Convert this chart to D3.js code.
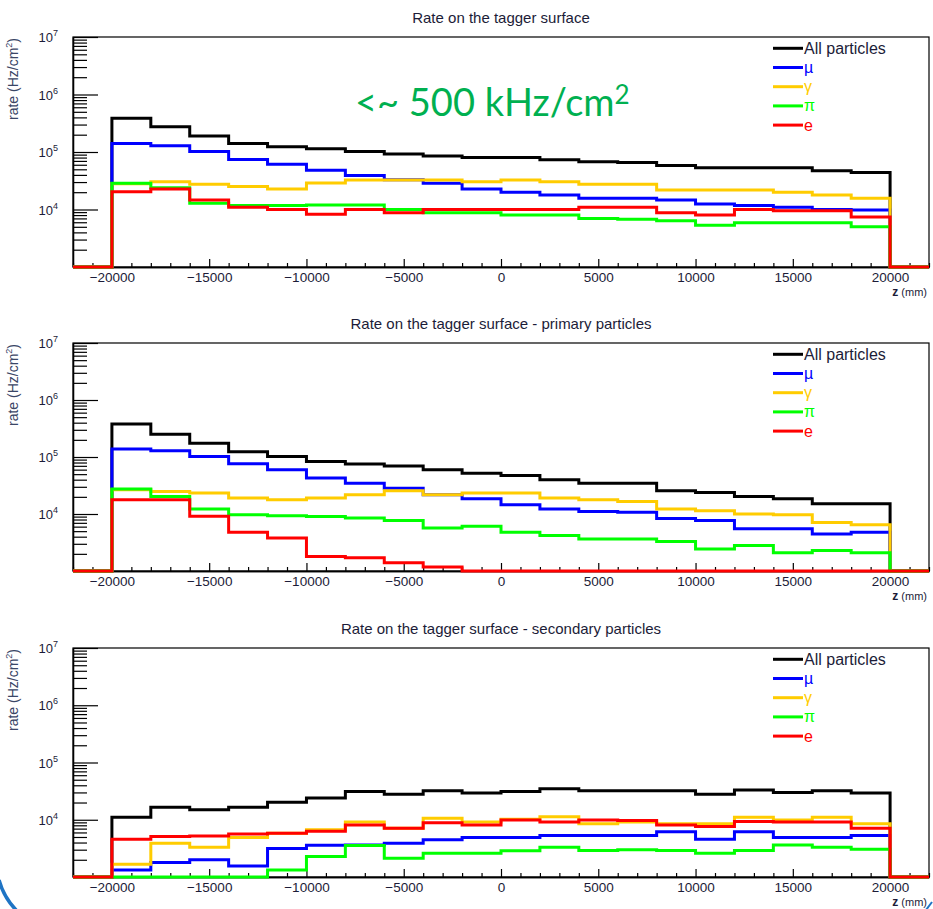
<!DOCTYPE html>
<html>
<head>
<meta charset="utf-8">
<script src="https://cdn.jsdelivr.net/npm/d3@7"></script>
<style>
  html, body { margin: 0; padding: 0; background: #ffffff; }
  svg { display: block; }
  .root-text { font-family: "Liberation Sans", Arial, Helvetica, sans-serif; }
</style>
</head>
<body>
<script>
// Bin edges along z (mm): 22 bins of 2000 mm, the outermost two are empty.
const zEdges = [-22000, -20000, -18000, -16000, -14000, -12000, -10000, -8000, -6000, -4000, -2000,
                0, 2000, 4000, 6000, 8000, 10000, 12000, 14000, 16000, 18000, 20000, 22000];

// Rate on the tagger surface (Hz/cm^2), all particles
const allSurface   = [0, 385e3, 275e3, 190e3, 141e3, 123e3, 114e3, 102e3, 92e3, 85e3, 80e3, 80e3, 73e3, 68e3, 66e3, 58e3, 53e3, 53e3, 53e3, 47e3, 44e3, 0];
const muSurface    = [0, 141e3, 129e3, 102e3, 74e3, 61e3, 48e3, 39e3, 33e3, 28.5e3, 22.8e3, 19.9e3, 17.9e3, 15.7e3, 15.7e3, 14.6e3, 12.5e3, 11.7e3, 10.9e3, 10e3, 9.8e3, 0];
const gammaSurface = [0, 28e3, 30.5e3, 27.5e3, 25e3, 22.8e3, 29e3, 32.6e3, 32.6e3, 32.6e3, 30.3e3, 32.6e3, 30.3e3, 27.5e3, 27.5e3, 21.8e3, 21.8e3, 21.8e3, 19.9e3, 17.9e3, 15.7e3, 0];
const piSurface    = [0, 28.5e3, 24e3, 12.8e3, 11.7e3, 11.7e3, 12e3, 12e3, 10e3, 8.8e3, 8.8e3, 8e3, 8e3, 7e3, 6.8e3, 6.4e3, 5.3e3, 5.9e3, 5.9e3, 5.9e3, 5.0e3, 0];
const eSurface     = [0, 20.4e3, 22.8e3, 14.6e3, 10.9e3, 10e3, 8.3e3, 10e3, 8.8e3, 10e3, 10e3, 10e3, 10e3, 10.9e3, 10.9e3, 8.8e3, 8e3, 10e3, 9.5e3, 9.5e3, 7.4e3, 0];

// Primary particles
const allPrimary   = [0, 380e3, 250e3, 174e3, 124e3, 102e3, 83e3, 75.7e3, 69.8e3, 59.5e3, 52e3, 47.3e3, 39.8e3, 34.8e3, 34.8e3, 25.5e3, 23.9e3, 20.3e3, 18.5e3, 15.1e3, 15.1e3, 0];
const muPrimary    = [0, 138e3, 129e3, 102e3, 76e3, 59.6e3, 42.6e3, 34.8e3, 28.4e3, 21.7e3, 18.5e3, 14.6e3, 12.2e3, 11.1e3, 10.7e3, 8.3e3, 7.7e3, 5.5e3, 5.5e3, 4.47e3, 4.8e3, 0];
const gammaPrimary = [0, 26.6e3, 24.8e3, 23.3e3, 19e3, 17.8e3, 19e3, 21.7e3, 25.5e3, 21.7e3, 23.3e3, 23.3e3, 19e3, 17.8e3, 16.6e3, 12.2e3, 11.4e3, 10e3, 9.7e3, 7.1e3, 6.5e3, 0];
const piPrimary    = [0, 27.4e3, 20.3e3, 12.2e3, 9.7e3, 9.3e3, 9.0e3, 8.5e3, 7.7e3, 5.7e3, 6.1e3, 4.8e3, 4.2e3, 3.66e3, 3.66e3, 3.3e3, 2.44e3, 2.8e3, 2.08e3, 2.28e3, 2.08e3, 0];
const ePrimary     = [0, 17.8e3, 17.8e3, 9.1e3, 4.8e3, 3.8e3, 1.8e3, 1.7e3, 1.39e3, 1.17e3, 0, 0, 0, 0, 0, 0, 0, 0, 0, 0, 0, 0];

// Secondary particles
const allSecondary   = [0, 11.1e3, 16.6e3, 14.9e3, 16.6e3, 20.3e3, 23.9e3, 31.1e3, 28e3, 32e3, 29.2e3, 31.1e3, 34.7e3, 32e3, 32e3, 32e3, 28e3, 33e3, 30e3, 32e3, 29.2e3, 0];
const muSecondary    = [0, 1.33e3, 1.8e3, 2.0e3, 1.56e3, 3.16e3, 3.6e3, 3.63e3, 3.9e3, 4.47e3, 4.9e3, 4.9e3, 5.3e3, 5.3e3, 5.3e3, 6.2e3, 4.57e3, 6.2e3, 4.9e3, 4.9e3, 5.3e3, 0];
const gammaSecondary = [0, 1.67e3, 3.9e3, 3.3e3, 4.9e3, 5.8e3, 6.7e3, 9.1e3, 7.1e3, 10.6e3, 9.1e3, 10.2e3, 11.3e3, 8.5e3, 9.1e3, 8.5e3, 8.5e3, 11.1e3, 9.95e3, 11.1e3, 8.5e3, 0];
const piSecondary    = [0, 0, 0, 0, 0, 1.33e3, 2.27e3, 3.55e3, 2.13e3, 2.6e3, 2.6e3, 2.87e3, 3.3e3, 2.9e3, 2.98e3, 2.9e3, 2.6e3, 2.9e3, 3.63e3, 3.3e3, 3.06e3, 0];
const eSecondary     = [0, 4.57e3, 5.1e3, 5.2e3, 5.66e3, 5.8e3, 6.3e3, 8.1e3, 7.1e3, 8.9e3, 8.1e3, 9.95e3, 9.1e3, 9.95e3, 9.7e3, 8.1e3, 7.6e3, 9.3e3, 9.1e3, 9.1e3, 7.1e3, 0];

const panelTitles = [
  "Rate on the tagger surface",
  "Rate on the tagger surface - primary particles",
  "Rate on the tagger surface - secondary particles"
];
const particleLabels = ["All particles", "\u00b5", "\u03b3", "\u03c0", "e"];
const particleColors = ["#000000", "#0000ff", "#ffcc00", "#00ff00", "#ff0000"];
const zTicks = [-20000, -15000, -10000, -5000, 0, 5000, 10000, 15000, 20000];
const rateDecades = [4, 5, 6, 7];

const panelSeries = [
  [allSurface, muSurface, gammaSurface, piSurface, eSurface],
  [allPrimary, muPrimary, gammaPrimary, piPrimary, ePrimary],
  [allSecondary, muSecondary, gammaSecondary, piSecondary, eSecondary]
];

// Layout
const W = 933, H = 909;
const frameLeft = 73, frameRight = 929;
const frameTops = [37, 343, 648];
const frameBottoms = [267, 571, 877];
const textColor = "#1c1c38";

const svg = d3.select("body").append("svg").attr("width", W).attr("height", H);
svg.append("rect").attr("width", W).attr("height", H).attr("fill", "#ffffff");

const x = d3.scaleLinear().domain([-22000, 22000]).range([frameLeft, frameRight]);

panelSeries.forEach((series, p) => {
  const top = frameTops[p], bottom = frameBottoms[p];
  const y = d3.scaleLog().domain([1e3, 1e7]).range([bottom, top]).clamp(true);
  const g = svg.append("g").attr("class", "root-text");

  // frame
  g.append("rect")
    .attr("x", frameLeft).attr("y", top)
    .attr("width", frameRight - frameLeft).attr("height", bottom - top)
    .attr("fill", "none").attr("stroke", "#000").attr("stroke-width", 1.2);

  // title
  g.append("text")
    .attr("x", (frameLeft + frameRight) / 2).attr("y", top - 14)
    .attr("text-anchor", "middle").attr("font-size", 15).attr("fill", textColor)
    .text(panelTitles[p]);

  // z axis: major and minor ticks
  const minorZ = d3.range(-22000, 22001, 1000).filter(v => zTicks.indexOf(v) < 0);
  const xMinor = g.append("g").attr("transform", `translate(0,${bottom})`)
    .call(d3.axisBottom(x).tickValues(minorZ).tickSizeInner(-4).tickSizeOuter(0).tickFormat(""));
  const xMajor = g.append("g").attr("transform", `translate(0,${bottom})`)
    .call(d3.axisBottom(x).tickValues(zTicks).tickSizeInner(-8).tickSizeOuter(0)
      .tickPadding(5).tickFormat(d3.format("d")));
  [xMinor, xMajor].forEach(a => {
    a.select(".domain").attr("stroke", "#000").attr("stroke-width", 1.3);
    a.selectAll(".tick line").attr("stroke", "#000").attr("stroke-width", 1.2);
  });
  xMajor.selectAll(".tick text")
    .attr("font-family", "Liberation Sans, Arial, sans-serif")
    .attr("font-size", 13.5).attr("fill", textColor);

  // z axis title
  const zt = g.append("text")
    .attr("x", 927).attr("y", bottom + 28.5).attr("text-anchor", "end").attr("fill", textColor);
  zt.append("tspan").attr("font-size", 12).attr("font-weight", "bold").text("z");
  zt.append("tspan").attr("font-size", 11).text(" (mm)");

  // rate axis: decades and 2..9 sub-ticks
  const majorR = rateDecades.map(e => Math.pow(10, e)).concat([1e3]);
  const minorR = [];
  [3, 4, 5, 6].forEach(e => { for (let k = 2; k <= 9; k++) minorR.push(k * Math.pow(10, e)); });
  const yMinor = g.append("g").attr("transform", `translate(${frameLeft},0)`)
    .call(d3.axisLeft(y).tickValues(minorR).tickSizeInner(-14).tickSizeOuter(0).tickFormat(""));
  const yMajor = g.append("g").attr("transform", `translate(${frameLeft},0)`)
    .call(d3.axisLeft(y).tickValues(majorR).tickSizeInner(-25).tickSizeOuter(0).tickFormat(""));
  [yMinor, yMajor].forEach(a => {
    a.select(".domain").attr("stroke", "#000").attr("stroke-width", 1.3);
    a.selectAll(".tick line").attr("stroke", "#000").attr("stroke-width", 1.2);
  });

  // decade labels 10^n
  rateDecades.forEach(e => {
    const t = g.append("text")
      .attr("x", 58).attr("y", y(Math.pow(10, e)) + 5)
      .attr("text-anchor", "end").attr("fill", textColor);
    t.append("tspan").attr("font-size", 13).text("10");
    t.append("tspan").attr("font-size", 9).attr("dy", -6).text(String(e));
  });

  // rate axis title
  const yt = g.append("text")
    .attr("transform", `translate(18,${top + 1}) rotate(-90)`)
    .attr("text-anchor", "end").attr("fill", "#3a4666").attr("font-size", 14);
  yt.append("tspan").text("rate (Hz/cm");
  yt.append("tspan").attr("font-size", 9).attr("dy", -6).text("2");
  yt.append("tspan").attr("dy", 6).text(")");

  // histograms as step outlines, drawn in legend order so e ends on top
  const line = d3.line()
    .x(d => x(d[0]))
    .y(d => d[1] > 0 ? y(d[1]) : bottom)
    .curve(d3.curveStepAfter);
  series.forEach((vals, s) => {
    const pts = vals.map((v, i) => [zEdges[i], v]);
    pts.push([zEdges[zEdges.length - 1], vals[vals.length - 1]]);
    g.append("path")
      .attr("d", line(pts))
      .attr("fill", "none")
      .attr("stroke", particleColors[s])
      .attr("stroke-width", 3)
      .attr("stroke-linejoin", "miter");
  });

  // legend
  particleLabels.forEach((lab, s) => {
    const ly = top + 11.3 + s * 19.2;
    g.append("line")
      .attr("x1", 773).attr("x2", 803).attr("y1", ly).attr("y2", ly)
      .attr("stroke", particleColors[s]).attr("stroke-width", 3);
    g.append("text")
      .attr("x", 804).attr("y", ly + 5.5)
      .attr("font-size", 16)
      .attr("fill", s === 0 ? textColor : particleColors[s])
      .text(lab);
  });
});

// rate annotation on the surface panel
const note = svg.append("text")
  .attr("x", 355).attr("y", 116)
  .attr("font-family", "Lato, 'Open Sans', sans-serif")
  .attr("font-size", 38).attr("fill", "#00b050");
note.append("tspan").text("<~ 500 kHz/cm");
note.append("tspan").attr("font-size", 26).attr("dy", -12).text("2");

// slide border fragments at the lower corners
svg.append("path")
  .attr("d", "M -1,880 Q 4,898 17,911")
  .attr("fill", "none").attr("stroke", "#1f74c4").attr("stroke-width", 3.5);
svg.append("path")
  .attr("d", "M 926,910 L 932,902")
  .attr("fill", "none").attr("stroke", "#1f74c4").attr("stroke-width", 2);
</script>
</body>
</html>
